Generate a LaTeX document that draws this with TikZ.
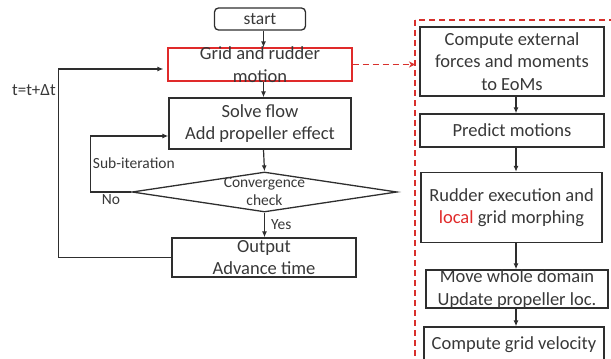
\documentclass[tikz,border=0pt]{standalone}
\usepackage{fontspec}
\setmainfont{Carlito}
\usepackage{tikz}
\usetikzlibrary{arrows.meta,shapes.geometric}

\definecolor{linegray}{HTML}{2E2E2E}
\definecolor{textgray}{HTML}{383838}
\definecolor{boxred}{HTML}{E02A2A}
\definecolor{dashred}{HTML}{D8302C}

\begin{document}
\begin{tikzpicture}[
        x=1pt, y=-1pt,
        block/.style={
            draw=linegray,
            line width=1.3pt,
            align=center,
            text=textgray,
            inner xsep=2pt,
            inner ysep=-6pt,
            font=\fontsize{18.5}{22.5}\selectfont
        },
        terminal/.style={
            block,
            rounded corners=4pt,
            font=\fontsize{17.5}{21}\selectfont
        },
        decision/.style={
            diamond,
            draw=linegray,
            line width=1.3pt,
            inner sep=0pt,
            minimum width=265pt,
            minimum height=40pt
        },
        note/.style={
            text=textgray,
            align=center,
            inner sep=2pt,
            font=\fontsize{15.5}{18}\selectfont
        },
        flow/.style={
            -{Latex[length=6pt,width=5pt]},
            line width=1.2pt,
            draw=linegray
        },
        link/.style={
            -{Stealth[length=6pt,width=6pt]},
            line width=1.4pt,
            draw=dashred,
            dash pattern=on 6pt off 4pt
        },
        frame/.style={
            draw=dashred,
            line width=1.4pt,
            dash pattern=on 6pt off 4pt
        }
    ]
        \clip (0,0) rectangle (611,359);

        \node[terminal, minimum width=91pt, minimum height=22pt] (start) at (260,19) {start};
        \node[block, draw=boxred, line width=1.1pt, minimum width=184pt, minimum height=33pt] (grid) at (260,64.5) {Grid and rudder\\motion};
        \node[block, minimum width=182pt, minimum height=51pt] (solve) at (260,123.5) {Solve flow\\Add propeller effect};
        \node[decision, label={[note]center:Convergence\\check}] (conv) at (264.5,192) {};
        \node[block, minimum width=184pt, minimum height=39pt] (output) at (264,257.5) {Output\\Advance time};

        \node[block, minimum width=184pt, minimum height=69pt] (forces) at (512,61.5) {Compute external\\forces and moments\\to EoMs};
        \node[block, minimum width=184pt, minimum height=33pt] (predict) at (512,130.5) {Predict motions};
        \node[block, minimum width=181pt, minimum height=70pt] (rudder) at (511.5,207.5) {Rudder execution and\\\textcolor{boxred}{local} grid morphing};
        \node[block, minimum width=182pt, minimum height=38pt] (move) at (517,289) {Move whole domain\\Update propeller loc.};
        \node[block, minimum width=180pt, minimum height=36pt] (gridvel) at (514,345) {Compute grid velocity};

        \coordinate (leftaxis) at (263.5,0);
        \coordinate (rightaxis) at (516,0);
        \coordinate (frametl) at (415,20);

        \draw[frame] (frametl) rectangle (640,390);

        \draw[flow] (start.south -| leftaxis) -- (grid.north -| leftaxis);
        \draw[flow] (grid.south -| leftaxis) -- (solve.north -| leftaxis);
        \draw[flow] (solve.south -| leftaxis) -- (conv.north);
        \draw[flow] (conv.south) -- node[note, right=4pt] {Yes} (output.north -| conv.south);
        \draw[flow] (conv.west) -- node[note, below] {No} ++(-41,0)
            |- node[note, pos=0.26, right] {Sub-iteration} ([yshift=-12.5pt]solve.west);
        \draw[flow, shorten >=4pt] (output.west) -- ++(-113,0)
            |- node[note, pos=0.445, left, font=\fontsize{17}{20}\selectfont] {t=t+Δt} ([yshift=-4.5pt]grid.west);

        \draw[link] (grid.east) -- (grid.east -| frametl);

        \draw[flow] (forces.south -| rightaxis) -- (predict.north -| rightaxis);
        \draw[flow] (predict.south -| rightaxis) -- (rudder.north -| rightaxis);
        \draw[flow] (rudder.south -| rightaxis) -- (move.north -| rightaxis);
        \draw[flow] (move.south -| rightaxis) -- (gridvel.north -| rightaxis);
\end{tikzpicture}
\end{document}
